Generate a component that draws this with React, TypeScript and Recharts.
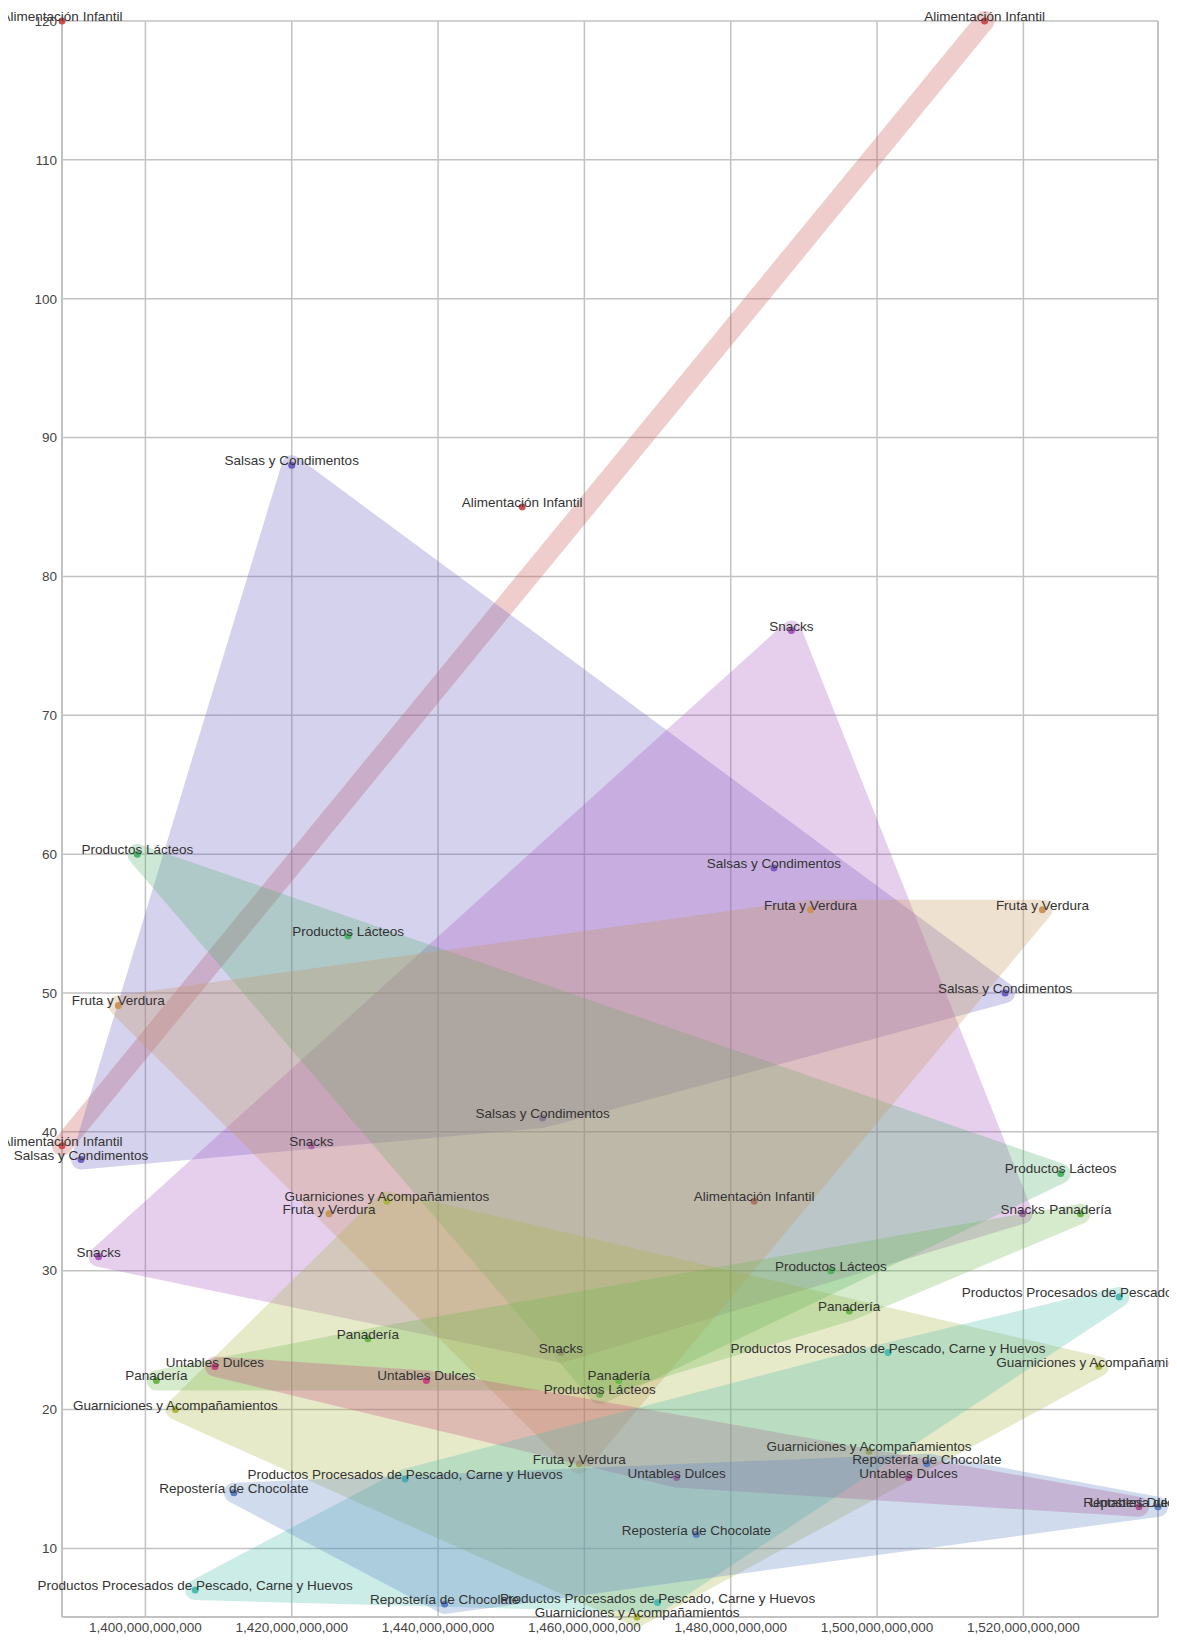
import { ScatterChart, Scatter, XAxis, YAxis, CartesianGrid, ReferenceLine } from 'recharts';

type Punto = { x: number; y: number };

// Valores (x en miles de millones)
const alimentacionBanda: Punto[] = [
  { x: 1388.6e9, y: 39.0 }, { x: 1514.7e9, y: 120 },
];
const alimentacionSueltos: Punto[] = [
  { x: 1388.6e9, y: 120 }, { x: 1451.5e9, y: 85.0 }, { x: 1483.2e9, y: 35.0 },
];
const salsas: Punto[] = [
  { x: 1420.0e9, y: 88.0 }, { x: 1391.2e9, y: 38.0 }, { x: 1454.3e9, y: 41.0 },
  { x: 1485.9e9, y: 59.0 }, { x: 1517.5e9, y: 50.0 },
];
const snacks: Punto[] = [
  { x: 1488.3e9, y: 76.1 }, { x: 1422.7e9, y: 39.0 }, { x: 1393.6e9, y: 31.0 },
  { x: 1519.9e9, y: 34.1 }, { x: 1456.8e9, y: 24.1 },
];
const lacteos: Punto[] = [
  { x: 1398.9e9, y: 60.0 }, { x: 1427.7e9, y: 54.1 }, { x: 1525.1e9, y: 37.0 },
  { x: 1493.7e9, y: 30.0 }, { x: 1462.1e9, y: 21.1 },
];
const fruta: Punto[] = [
  { x: 1396.3e9, y: 49.1 }, { x: 1490.9e9, y: 56.0 }, { x: 1522.6e9, y: 56.0 },
  { x: 1425.1e9, y: 34.1 }, { x: 1459.3e9, y: 16.1 },
];
const guarniciones: Punto[] = [
  { x: 1433.0e9, y: 35.0 }, { x: 1404.1e9, y: 20.0 }, { x: 1530.3e9, y: 23.1 },
  { x: 1498.9e9, y: 17.0 }, { x: 1467.2e9, y: 5.06 },
];
const panaderia: Punto[] = [
  { x: 1430.4e9, y: 25.1 }, { x: 1401.5e9, y: 22.1 }, { x: 1527.8e9, y: 34.1 },
  { x: 1496.2e9, y: 27.1 }, { x: 1464.7e9, y: 22.1 },
];
const untables: Punto[] = [
  { x: 1409.5e9, y: 23.1 }, { x: 1438.4e9, y: 22.1 }, { x: 1472.6e9, y: 15.1 },
  { x: 1504.3e9, y: 15.1 }, { x: 1535.8e9, y: 13.0 },
];
const procesados: Punto[] = [
  { x: 1435.5e9, y: 15.0 }, { x: 1406.8e9, y: 7.0 }, { x: 1470.0e9, y: 6.1 },
  { x: 1501.5e9, y: 24.1 }, { x: 1533.1e9, y: 28.1 },
];
const reposteria: Punto[] = [
  { x: 1412.1e9, y: 14.0 }, { x: 1440.9e9, y: 6.0 }, { x: 1475.3e9, y: 11.0 },
  { x: 1506.8e9, y: 16.1 }, { x: 1538.4e9, y: 13.0 },
];

const xTicks = [1400e9, 1420e9, 1440e9, 1460e9, 1480e9, 1500e9, 1520e9];
const yTicks = [10, 20, 30, 40, 50, 60, 70, 80, 90, 100, 110, 120];

const colores: Record<string, string> = {
  'Alimentación Infantil': '#c9504f',
  'Salsas y Condimentos': '#6d5fc0',
  'Snacks': '#a855c0',
  'Productos Lácteos': '#4fb06a',
  'Fruta y Verdura': '#c8955a',
  'Guarniciones y Acompañamientos': '#a9b53f',
  'Panadería': '#6ab84a',
  'Untables Dulces': '#c8457e',
  'Productos Procesados de Pescado, Carne y Huevos': '#4bbcb0',
  'Repostería de Chocolate': '#5b7fc4',
};

const series = [
  { nombre: 'Alimentación Infantil', datos: alimentacionBanda, envolvente: true },
  { nombre: 'Alimentación Infantil', datos: alimentacionSueltos, envolvente: false },
  { nombre: 'Salsas y Condimentos', datos: salsas, envolvente: true },
  { nombre: 'Snacks', datos: snacks, envolvente: true },
  { nombre: 'Productos Lácteos', datos: lacteos, envolvente: true },
  { nombre: 'Fruta y Verdura', datos: fruta, envolvente: true },
  { nombre: 'Guarniciones y Acompañamientos', datos: guarniciones, envolvente: true },
  { nombre: 'Panadería', datos: panaderia, envolvente: true },
  { nombre: 'Untables Dulces', datos: untables, envolvente: true },
  { nombre: 'Productos Procesados de Pescado, Carne y Huevos', datos: procesados, envolvente: true },
  { nombre: 'Repostería de Chocolate', datos: reposteria, envolvente: true },
];

const todos = series.flatMap((s) => s.datos.map((p) => ({ ...p, nombre: s.nombre })));
const X_MIN = Math.min(...todos.map((p) => p.x));
const X_MAX = Math.max(...todos.map((p) => p.x));
const Y_MIN = Math.min(...todos.map((p) => p.y));
const Y_MAX = Math.max(...todos.map((p) => p.y));

const FONT = "'Liberation Sans', Arial, sans-serif";
const GRIS = '#c2c2c2';

// Envolvente convexa (monotone chain) en coordenadas de pantalla
function envolvente(pts: Punto[]): Punto[] {
  const p = [...pts].sort((a, b) => a.x - b.x || a.y - b.y);
  if (p.length < 3) return p;
  const cross = (o: Punto, a: Punto, b: Punto) =>
    (a.x - o.x) * (b.y - o.y) - (a.y - o.y) * (b.x - o.x);
  const lower: Punto[] = [];
  for (const q of p) {
    while (lower.length >= 2 && cross(lower[lower.length - 2], lower[lower.length - 1], q) <= 0) lower.pop();
    lower.push(q);
  }
  const upper: Punto[] = [];
  for (const q of [...p].reverse()) {
    while (upper.length >= 2 && cross(upper[upper.length - 2], upper[upper.length - 1], q) <= 0) upper.pop();
    upper.push(q);
  }
  lower.pop();
  upper.pop();
  return lower.concat(upper);
}

const renderEnvolvente = (color: string) => (props: any) => {
  const pts: Punto[] = (props.points || []).filter(
    (p: Punto) => Number.isFinite(p.x) && Number.isFinite(p.y),
  );
  const hull = envolvente(pts);
  return (
    <polygon
      points={hull.map((p) => `${p.x},${p.y}`).join(' ')}
      fill={color}
      stroke={color}
      strokeWidth={20}
      strokeLinejoin="round"
      opacity={0.28}
    />
  );
};

const renderPunto = (color: string) => (props: any) => (
  <circle cx={props.cx} cy={props.cy} r={3.5} fill={color} />
);

const renderEtiqueta = (props: any) => (
  <text
    x={props.cx}
    y={props.cy}
    textAnchor="middle"
    fontSize={13.5}
    fontFamily={FONT}
    fill="#333"
  >
    {props.payload.nombre}
  </text>
);

export default function App() {
  return (
    <div style={{ fontFamily: FONT }}>
      <ScatterChart
        width={1161}
        height={1632}
        margin={{ top: 13, right: 11, bottom: 1, left: 14 }}
      >
        <CartesianGrid stroke={GRIS} strokeWidth={1.5} />
        <XAxis
          type="number"
          dataKey="x"
          domain={[X_MIN, X_MAX]}
          ticks={xTicks}
          interval={0}
          tickFormatter={(v: number) => v.toLocaleString('en-US')}
          height={22}
          tickSize={0}
          tickMargin={5}
          tickLine={false}
          axisLine={{ stroke: GRIS, strokeWidth: 2 }}
          tick={{ fill: '#444', fontSize: 13.5, fontFamily: FONT }}
        />
        <YAxis
          type="number"
          dataKey="y"
          domain={[Y_MIN, Y_MAX]}
          ticks={yTicks}
          interval={0}
          width={40}
          tickSize={0}
          tickMargin={5}
          tickLine={false}
          axisLine={{ stroke: GRIS, strokeWidth: 2 }}
          tick={{ fill: '#444', fontSize: 13.5, fontFamily: FONT }}
        />
        <ReferenceLine x={X_MAX} stroke={GRIS} strokeWidth={2} ifOverflow="visible" />
        {series.map((s, i) => (
          <Scatter
            key={i}
            name={s.nombre}
            data={s.datos}
            line={s.envolvente ? renderEnvolvente(colores[s.nombre]) : false}
            lineType="joint"
            shape={renderPunto(colores[s.nombre])}
            isAnimationActive={false}
          />
        ))}
        <Scatter
          name="etiquetas"
          data={todos}
          shape={renderEtiqueta}
          isAnimationActive={false}
        />
      </ScatterChart>
    </div>
  );
}
